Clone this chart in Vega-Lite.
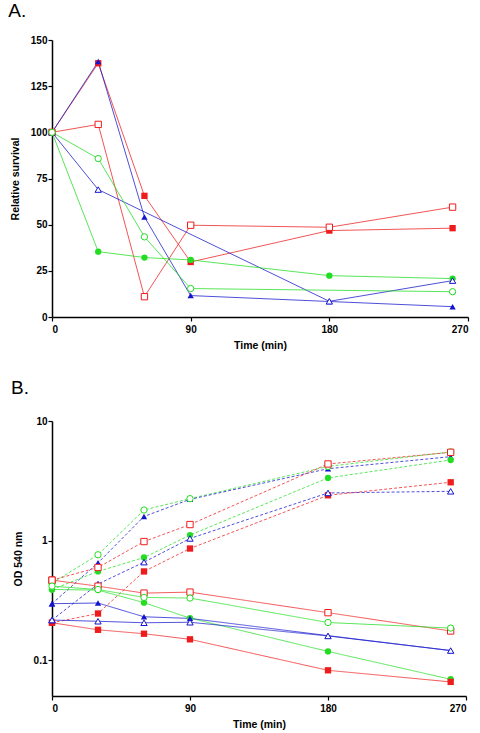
{
  "$schema": "https://vega.github.io/schema/vega-lite/v6.json",
  "padding": {"left": 8, "top": 2, "right": 2, "bottom": 2},
  "background": "white",
  "config": {
    "view": {"stroke": null},
    "font": "Liberation Sans",
    "axis": {"domainColor": "black", "domainWidth": 1.5, "tickColor": "black", "tickWidth": 1.2, "tickSize": 4, "labelFont": "Liberation Sans", "labelFontWeight": "bold", "labelFontSize": 10, "labelColor": "black", "titleFont": "Liberation Sans", "titleFontWeight": "bold", "titleFontSize": 10.5, "titleColor": "black", "grid": false, "labelPadding": 1},
    "axisX": {"labelPadding": 3},
    "title": {"anchor": "start", "frame": "bounds", "fontSize": 19, "fontWeight": "normal", "font": "Liberation Sans", "color": "black", "dx": -2},
    "concat": {"spacing": 28}
  },
  "datasets": {
    "a": [
      {"strain": "S1", "variant": "closed", "t": 0, "v": 100},
      {"strain": "S1", "variant": "closed", "t": 30, "v": 137.4},
      {"strain": "S1", "variant": "closed", "t": 60, "v": 65.6},
      {"strain": "S1", "variant": "closed", "t": 90, "v": 29.8},
      {"strain": "S1", "variant": "closed", "t": 180, "v": 46.8},
      {"strain": "S1", "variant": "closed", "t": 260, "v": 48.1},
      {"strain": "S1", "variant": "open", "t": 0, "v": 100},
      {"strain": "S1", "variant": "open", "t": 30, "v": 104.3},
      {"strain": "S1", "variant": "open", "t": 60, "v": 11.0},
      {"strain": "S1", "variant": "open", "t": 90, "v": 49.7},
      {"strain": "S1", "variant": "open", "t": 180, "v": 48.6},
      {"strain": "S1", "variant": "open", "t": 260, "v": 59.5},
      {"strain": "S3", "variant": "closed", "t": 0, "v": 100},
      {"strain": "S3", "variant": "closed", "t": 30, "v": 138.3},
      {"strain": "S3", "variant": "closed", "t": 60, "v": 54.2},
      {"strain": "S3", "variant": "closed", "t": 90, "v": 11.6},
      {"strain": "S3", "variant": "closed", "t": 180, "v": 8.4},
      {"strain": "S3", "variant": "closed", "t": 260, "v": 5.6},
      {"strain": "S3", "variant": "open", "t": 0, "v": 100},
      {"strain": "S3", "variant": "open", "t": 30, "v": 69.0},
      {"strain": "S3", "variant": "open", "t": 180, "v": 8.5},
      {"strain": "S3", "variant": "open", "t": 260, "v": 19.7},
      {"strain": "S2", "variant": "closed", "t": 0, "v": 100},
      {"strain": "S2", "variant": "closed", "t": 30, "v": 35.4},
      {"strain": "S2", "variant": "closed", "t": 60, "v": 32.2},
      {"strain": "S2", "variant": "closed", "t": 90, "v": 30.9},
      {"strain": "S2", "variant": "closed", "t": 180, "v": 22.4},
      {"strain": "S2", "variant": "closed", "t": 260, "v": 20.8},
      {"strain": "S2", "variant": "open", "t": 0, "v": 100},
      {"strain": "S2", "variant": "open", "t": 30, "v": 85.8},
      {"strain": "S2", "variant": "open", "t": 60, "v": 43.4},
      {"strain": "S2", "variant": "open", "t": 90, "v": 15.4},
      {"strain": "S2", "variant": "open", "t": 260, "v": 13.7}
    ],
    "b": [
      {"strain": "S2", "variant": "open", "phase": "growth", "t": 0, "v": 0.44},
      {"strain": "S2", "variant": "open", "phase": "growth", "t": 30, "v": 0.76},
      {"strain": "S2", "variant": "open", "phase": "growth", "t": 60, "v": 1.80},
      {"strain": "S2", "variant": "open", "phase": "growth", "t": 90, "v": 2.24},
      {"strain": "S2", "variant": "open", "phase": "growth", "t": 180, "v": 4.17},
      {"strain": "S2", "variant": "open", "phase": "growth", "t": 260, "v": 5.51},
      {"strain": "S3", "variant": "closed", "phase": "growth", "t": 0, "v": 0.296},
      {"strain": "S3", "variant": "closed", "phase": "growth", "t": 30, "v": 0.651},
      {"strain": "S3", "variant": "closed", "phase": "growth", "t": 60, "v": 1.59},
      {"strain": "S3", "variant": "closed", "phase": "growth", "t": 90, "v": 2.21},
      {"strain": "S3", "variant": "closed", "phase": "growth", "t": 180, "v": 3.99},
      {"strain": "S3", "variant": "closed", "phase": "growth", "t": 260, "v": 5.03},
      {"strain": "S1", "variant": "open", "phase": "growth", "t": 0, "v": 0.466},
      {"strain": "S1", "variant": "open", "phase": "growth", "t": 30, "v": 0.595},
      {"strain": "S1", "variant": "open", "phase": "growth", "t": 60, "v": 0.98},
      {"strain": "S1", "variant": "open", "phase": "growth", "t": 90, "v": 1.36},
      {"strain": "S1", "variant": "open", "phase": "growth", "t": 180, "v": 4.37},
      {"strain": "S1", "variant": "open", "phase": "growth", "t": 260, "v": 5.47},
      {"strain": "S2", "variant": "closed", "phase": "growth", "t": 0, "v": 0.389},
      {"strain": "S2", "variant": "closed", "phase": "growth", "t": 30, "v": 0.551},
      {"strain": "S2", "variant": "closed", "phase": "growth", "t": 60, "v": 0.721},
      {"strain": "S2", "variant": "closed", "phase": "growth", "t": 90, "v": 1.11},
      {"strain": "S2", "variant": "closed", "phase": "growth", "t": 180, "v": 3.34},
      {"strain": "S2", "variant": "closed", "phase": "growth", "t": 260, "v": 4.72},
      {"strain": "S3", "variant": "open", "phase": "growth", "t": 0, "v": 0.216},
      {"strain": "S3", "variant": "open", "phase": "growth", "t": 30, "v": 0.432},
      {"strain": "S3", "variant": "open", "phase": "growth", "t": 60, "v": 0.659},
      {"strain": "S3", "variant": "open", "phase": "growth", "t": 90, "v": 1.04},
      {"strain": "S3", "variant": "open", "phase": "growth", "t": 180, "v": 2.50},
      {"strain": "S3", "variant": "open", "phase": "growth", "t": 260, "v": 2.58},
      {"strain": "S1", "variant": "closed", "phase": "growth", "t": 0, "v": 0.205},
      {"strain": "S1", "variant": "closed", "phase": "growth", "t": 30, "v": 0.245},
      {"strain": "S1", "variant": "closed", "phase": "growth", "t": 60, "v": 0.551},
      {"strain": "S1", "variant": "closed", "phase": "growth", "t": 90, "v": 0.857},
      {"strain": "S1", "variant": "closed", "phase": "growth", "t": 180, "v": 2.39},
      {"strain": "S1", "variant": "closed", "phase": "growth", "t": 260, "v": 3.07},
      {"strain": "S1", "variant": "open", "phase": "survival", "t": 0, "v": 0.466},
      {"strain": "S1", "variant": "open", "phase": "survival", "t": 30, "v": 0.415},
      {"strain": "S1", "variant": "open", "phase": "survival", "t": 60, "v": 0.363},
      {"strain": "S1", "variant": "open", "phase": "survival", "t": 90, "v": 0.370},
      {"strain": "S1", "variant": "open", "phase": "survival", "t": 180, "v": 0.249},
      {"strain": "S1", "variant": "open", "phase": "survival", "t": 260, "v": 0.175},
      {"strain": "S2", "variant": "open", "phase": "survival", "t": 0, "v": 0.415},
      {"strain": "S2", "variant": "open", "phase": "survival", "t": 30, "v": 0.389},
      {"strain": "S2", "variant": "open", "phase": "survival", "t": 60, "v": 0.334},
      {"strain": "S2", "variant": "open", "phase": "survival", "t": 90, "v": 0.330},
      {"strain": "S2", "variant": "open", "phase": "survival", "t": 180, "v": 0.206},
      {"strain": "S2", "variant": "open", "phase": "survival", "t": 260, "v": 0.185},
      {"strain": "S2", "variant": "closed", "phase": "survival", "t": 0, "v": 0.389},
      {"strain": "S2", "variant": "closed", "phase": "survival", "t": 30, "v": 0.385},
      {"strain": "S2", "variant": "closed", "phase": "survival", "t": 60, "v": 0.302},
      {"strain": "S2", "variant": "closed", "phase": "survival", "t": 90, "v": 0.224},
      {"strain": "S2", "variant": "closed", "phase": "survival", "t": 180, "v": 0.118},
      {"strain": "S2", "variant": "closed", "phase": "survival", "t": 260, "v": 0.069},
      {"strain": "S3", "variant": "closed", "phase": "survival", "t": 0, "v": 0.296},
      {"strain": "S3", "variant": "closed", "phase": "survival", "t": 30, "v": 0.300},
      {"strain": "S3", "variant": "closed", "phase": "survival", "t": 60, "v": 0.230},
      {"strain": "S3", "variant": "closed", "phase": "survival", "t": 90, "v": 0.223},
      {"strain": "S3", "variant": "closed", "phase": "survival", "t": 180, "v": 0.160},
      {"strain": "S3", "variant": "closed", "phase": "survival", "t": 260, "v": 0.120},
      {"strain": "S3", "variant": "open", "phase": "survival", "t": 0, "v": 0.216},
      {"strain": "S3", "variant": "open", "phase": "survival", "t": 30, "v": 0.211},
      {"strain": "S3", "variant": "open", "phase": "survival", "t": 60, "v": 0.205},
      {"strain": "S3", "variant": "open", "phase": "survival", "t": 90, "v": 0.207},
      {"strain": "S3", "variant": "open", "phase": "survival", "t": 180, "v": 0.159},
      {"strain": "S3", "variant": "open", "phase": "survival", "t": 260, "v": 0.120},
      {"strain": "S1", "variant": "closed", "phase": "survival", "t": 0, "v": 0.205},
      {"strain": "S1", "variant": "closed", "phase": "survival", "t": 30, "v": 0.179},
      {"strain": "S1", "variant": "closed", "phase": "survival", "t": 60, "v": 0.166},
      {"strain": "S1", "variant": "closed", "phase": "survival", "t": 90, "v": 0.149},
      {"strain": "S1", "variant": "closed", "phase": "survival", "t": 180, "v": 0.082},
      {"strain": "S1", "variant": "closed", "phase": "survival", "t": 260, "v": 0.0656}
    ]
  },
  "vconcat": [
    {
      "title": {"text": "A.", "offset": 14},
      "width": 416,
      "height": 277,
      "data": {"name": "a"},
      "encoding": {
        "x": {"field": "t", "type": "quantitative", "scale": {"domain": [0, 270], "nice": false}, "axis": {"values": [0, 90, 180, 270], "title": "Time (min)", "titlePadding": 6}},
        "y": {"field": "v", "type": "quantitative", "scale": {"domain": [0, 150], "nice": false}, "axis": {"values": [0, 25, 50, 75, 100, 125, 150], "title": "Relative survival", "titlePadding": 10}},
        "color": {"field": "strain", "type": "nominal", "scale": {"domain": ["S1", "S2", "S3"], "range": ["#ee1c1c", "#22dd22", "#1414cc"]}, "legend": null}
      },
      "layer": [
        {"mark": {"type": "line", "strokeWidth": 1, "opacity": 0.75}, "encoding": {"detail": {"field": "variant"}}},
        {"transform": [{"filter": "datum.variant == 'closed'"}], "mark": {"type": "point", "filled": true, "size": 40, "opacity": 1}, "encoding": {"shape": {"field": "strain", "type": "nominal", "scale": {"domain": ["S1", "S2", "S3"], "range": ["square", "circle", "triangle-up"]}, "legend": null}}},
        {"transform": [{"filter": "datum.variant == 'open'"}], "mark": {"type": "point", "filled": false, "fill": "white", "size": 40, "strokeWidth": 1, "opacity": 1}, "encoding": {"shape": {"field": "strain", "type": "nominal", "scale": {"domain": ["S1", "S2", "S3"], "range": ["square", "circle", "triangle-up"]}, "legend": null}}}
      ]
    },
    {
      "title": {"text": "B.", "offset": 18},
      "width": 414,
      "height": 275,
      "data": {"name": "b"},
      "encoding": {
        "x": {"field": "t", "type": "quantitative", "scale": {"domain": [0, 270], "nice": false}, "axis": {"values": [0, 90, 180, 270], "title": "Time (min)", "titlePadding": 6}},
        "y": {"field": "v", "type": "quantitative", "scale": {"type": "log", "domain": [0.05, 10], "nice": false}, "axis": {"values": [0.1, 1, 10], "format": "~g", "title": "OD 540 nm", "titlePadding": 10}},
        "color": {"field": "strain", "type": "nominal", "scale": {"domain": ["S1", "S2", "S3"], "range": ["#ee1c1c", "#22dd22", "#1414cc"]}, "legend": null}
      },
      "layer": [
        {"mark": {"type": "line", "strokeWidth": 1, "opacity": 0.75}, "encoding": {"detail": {"field": "variant"}, "strokeDash": {"field": "phase", "type": "nominal", "scale": {"domain": ["growth", "survival"], "range": [[3, 2], [1, 0]]}, "legend": null}}},
        {"transform": [{"filter": "datum.variant == 'closed'"}], "mark": {"type": "point", "filled": true, "size": 40, "opacity": 1}, "encoding": {"shape": {"field": "strain", "type": "nominal", "scale": {"domain": ["S1", "S2", "S3"], "range": ["square", "circle", "triangle-up"]}, "legend": null}}},
        {"transform": [{"filter": "datum.variant == 'open'"}], "mark": {"type": "point", "filled": false, "fill": "white", "size": 40, "strokeWidth": 1, "opacity": 1}, "encoding": {"shape": {"field": "strain", "type": "nominal", "scale": {"domain": ["S1", "S2", "S3"], "range": ["square", "circle", "triangle-up"]}, "legend": null}}}
      ]
    }
  ]
}
